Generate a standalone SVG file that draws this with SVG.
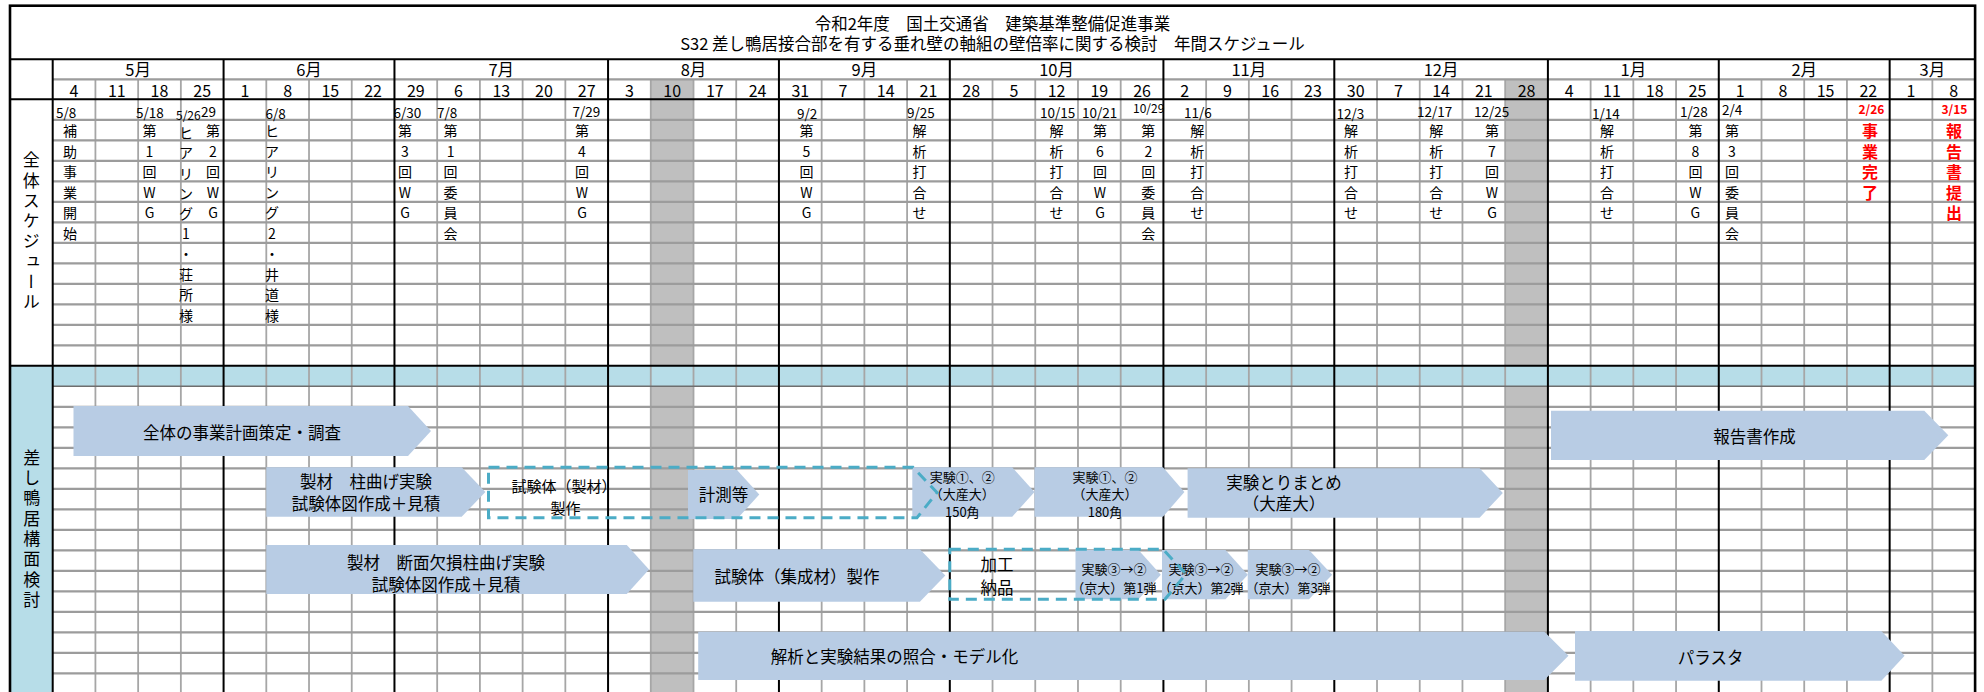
<svg xmlns="http://www.w3.org/2000/svg" width="1984" height="692" viewBox="0 0 1984 692">
<style>
.t{font-family:"Noto Sans CJK JP","Noto Sans",sans-serif;fill:#000;dominant-baseline:central}
.title{font-size:16.5px;text-anchor:middle}
.mon{font-size:16.5px;text-anchor:middle}
.wk{font-size:16px;text-anchor:middle}
.dt{font-size:13.5px;dominant-baseline:auto}
.sm{font-size:12px}
.vc{font-size:14px;text-anchor:middle}
.red{fill:#ff0000;font-weight:bold}
.rv{font-size:16px}
.lab{font-size:17px;text-anchor:middle;writing-mode:vertical-rl;letter-spacing:3.3px}
.bar{fill:#b8cce4}
.bt{font-size:16.5px;text-anchor:middle}
.bs{font-size:15px;text-anchor:middle}
.st{font-size:13px;text-anchor:middle}
.dash{fill:none;stroke:#4bacc6;stroke-width:3;stroke-dasharray:11 7}
.gv{stroke:#a6a6a6;stroke-width:1.8;fill:none}
.gh{stroke:#9c9c9c;stroke-width:2.2;fill:none}
.bk{stroke:#000;stroke-width:2;fill:none}
</style>
<rect x="0" y="0" width="1984" height="692" fill="#fff"/>
<g id="backgrounds">
<rect x="650.78" y="79.3" width="42.72" height="620" fill="#bfbfbf"/>
<rect x="1505.18" y="79.3" width="42.72" height="620" fill="#bfbfbf"/>
<rect x="52.7" y="365.8" width="1922.4" height="20.5" fill="#b7dde8"/>
<rect x="10" y="365.8" width="42.7" height="330" fill="#b7dde8"/>
</g>
<g id="grid">
<path class="gv" d="M95.42 79.3V700M138.14 79.3V700M180.86 79.3V700M266.3 79.3V700M309.02 79.3V700M351.74 79.3V700M437.18 79.3V700M479.9 79.3V700M522.62 79.3V700M565.34 79.3V700M650.78 79.3V700M693.5 79.3V700M736.22 79.3V700M821.66 79.3V700M864.38 79.3V700M907.1 79.3V700M992.54 79.3V700M1035.26 79.3V700M1077.98 79.3V700M1120.7 79.3V700M1206.14 79.3V700M1248.86 79.3V700M1291.58 79.3V700M1377.02 79.3V700M1419.74 79.3V700M1462.46 79.3V700M1505.18 79.3V700M1590.62 79.3V700M1633.34 79.3V700M1676.06 79.3V700M1761.5 79.3V700M1804.22 79.3V700M1846.94 79.3V700M1932.38 79.3V700"/>
<path class="gh" d="M52.7 79.3H1975.1M52.7 119.8H1975.1M52.7 140.3H1975.1M52.7 160.8H1975.1M52.7 181.3H1975.1M52.7 201.8H1975.1M52.7 222.3H1975.1M52.7 242.8H1975.1M52.7 263.3H1975.1M52.7 283.8H1975.1M52.7 304.3H1975.1M52.7 324.8H1975.1M52.7 345.3H1975.1M52.7 406.8H1975.1M52.7 427.3H1975.1M52.7 447.8H1975.1M52.7 468.3H1975.1M52.7 488.8H1975.1M52.7 509.3H1975.1M52.7 529.8H1975.1M52.7 550.3H1975.1M52.7 570.8H1975.1M52.7 591.3H1975.1M52.7 611.8H1975.1M52.7 632.3H1975.1M52.7 652.8H1975.1M52.7 673.3H1975.1"/>
<path d="M52.7 386.3H1975.1" stroke="#6e6e6e" stroke-width="1.6"/>
<path class="bk" d="M52.7 59.3V700M223.58 59.3V700M394.46 59.3V700M608.06 59.3V700M778.94 59.3V700M949.82 59.3V700M1163.42 59.3V700M1334.3 59.3V700M1547.9 59.3V700M1718.78 59.3V700M1889.66 59.3V700M10 59.3H1975.1M10 99.3H1975.1M10 365.8H1975.1"/>
<rect x="10" y="5.7" width="1965.1" height="700" fill="none" stroke="#000" stroke-width="2.6"/>
</g>
<g id="title">
<text class="t title" x="992.5" y="22.5">令和2年度　国土交通省　建築基準整備促進事業</text>
<text class="t title" x="992.5" y="42.5">S32 差し鴨居接合部を有する垂れ壁の軸組の壁倍率に関する検討　年間スケジュール</text>
</g>
<g id="months">
<text class="t mon" x="138.14" y="69">5月</text>
<text class="t mon" x="309.02" y="69">6月</text>
<text class="t mon" x="501.26" y="69">7月</text>
<text class="t mon" x="693.5" y="69">8月</text>
<text class="t mon" x="864.38" y="69">9月</text>
<text class="t mon" x="1056.62" y="69">10月</text>
<text class="t mon" x="1248.86" y="69">11月</text>
<text class="t mon" x="1441.1" y="69">12月</text>
<text class="t mon" x="1633.34" y="69">1月</text>
<text class="t mon" x="1804.22" y="69">2月</text>
<text class="t mon" x="1932.38" y="69">3月</text>
</g>
<g id="weeks">
<text class="t wk" x="74.06" y="89.5">4</text>
<text class="t wk" x="116.78" y="89.5">11</text>
<text class="t wk" x="159.5" y="89.5">18</text>
<text class="t wk" x="202.22" y="89.5">25</text>
<text class="t wk" x="244.94" y="89.5">1</text>
<text class="t wk" x="287.66" y="89.5">8</text>
<text class="t wk" x="330.38" y="89.5">15</text>
<text class="t wk" x="373.1" y="89.5">22</text>
<text class="t wk" x="415.82" y="89.5">29</text>
<text class="t wk" x="458.54" y="89.5">6</text>
<text class="t wk" x="501.26" y="89.5">13</text>
<text class="t wk" x="543.98" y="89.5">20</text>
<text class="t wk" x="586.7" y="89.5">27</text>
<text class="t wk" x="629.42" y="89.5">3</text>
<text class="t wk" x="672.14" y="89.5">10</text>
<text class="t wk" x="714.86" y="89.5">17</text>
<text class="t wk" x="757.58" y="89.5">24</text>
<text class="t wk" x="800.3" y="89.5">31</text>
<text class="t wk" x="843.02" y="89.5">7</text>
<text class="t wk" x="885.74" y="89.5">14</text>
<text class="t wk" x="928.46" y="89.5">21</text>
<text class="t wk" x="971.18" y="89.5">28</text>
<text class="t wk" x="1013.9" y="89.5">5</text>
<text class="t wk" x="1056.62" y="89.5">12</text>
<text class="t wk" x="1099.34" y="89.5">19</text>
<text class="t wk" x="1142.06" y="89.5">26</text>
<text class="t wk" x="1184.78" y="89.5">2</text>
<text class="t wk" x="1227.5" y="89.5">9</text>
<text class="t wk" x="1270.22" y="89.5">16</text>
<text class="t wk" x="1312.94" y="89.5">23</text>
<text class="t wk" x="1355.66" y="89.5">30</text>
<text class="t wk" x="1398.38" y="89.5">7</text>
<text class="t wk" x="1441.1" y="89.5">14</text>
<text class="t wk" x="1483.82" y="89.5">21</text>
<text class="t wk" x="1526.54" y="89.5">28</text>
<text class="t wk" x="1569.26" y="89.5">4</text>
<text class="t wk" x="1611.98" y="89.5">11</text>
<text class="t wk" x="1654.7" y="89.5">18</text>
<text class="t wk" x="1697.42" y="89.5">25</text>
<text class="t wk" x="1740.14" y="89.5">1</text>
<text class="t wk" x="1782.86" y="89.5">8</text>
<text class="t wk" x="1825.58" y="89.5">15</text>
<text class="t wk" x="1868.3" y="89.5">22</text>
<text class="t wk" x="1911.02" y="89.5">1</text>
<text class="t wk" x="1953.74" y="89.5">8</text>
</g>
<g id="section-labels">
<text class="t lab" x="31.3" y="232.5">全体スケジュール</text>
<text class="t lab" x="31.7" y="530">差し鴨居構面検討</text>
</g>
<g id="ev-0508"><text class="t dt" x="56" y="117.5">5/8</text><text class="t vc"><tspan x="70" y="130.05">補</tspan><tspan x="70" y="150.55">助</tspan><tspan x="70" y="171.05">事</tspan><tspan x="70" y="191.55">業</tspan><tspan x="70" y="212.05">開</tspan><tspan x="70" y="232.55">始</tspan></text></g>
<g id="ev-0518"><text class="t dt" x="136" y="117.5">5/18</text><text class="t vc"><tspan x="149.5" y="130.05">第</tspan><tspan x="149.5" y="150.55">1</tspan><tspan x="149.5" y="171.05">回</tspan><tspan x="149.5" y="191.55">W</tspan><tspan x="149.5" y="212.05">G</tspan></text></g>
<g id="ev-0526"><text class="t dt sm" x="176" y="119.5">5/26</text><text class="t vc"><tspan x="186" y="132">ヒ</tspan><tspan x="186" y="152">ア</tspan><tspan x="186" y="172.5">リ</tspan><tspan x="186" y="192.5">ン</tspan><tspan x="186" y="213">グ</tspan><tspan x="186" y="232.55">1</tspan><tspan x="186" y="253.05">・</tspan><tspan x="186" y="273.55">荘</tspan><tspan x="186" y="294.05">所</tspan><tspan x="186" y="314.55">様</tspan></text></g>
<g id="ev-0529"><text class="t dt" x="201" y="116.5">29</text><text class="t vc"><tspan x="213" y="130.05">第</tspan><tspan x="213" y="150.55">2</tspan><tspan x="213" y="171.05">回</tspan><tspan x="213" y="191.55">W</tspan><tspan x="213" y="212.05">G</tspan></text></g>
<g id="ev-0608"><text class="t dt" x="265.5" y="118.5">6/8</text><text class="t vc"><tspan x="272" y="130.05">ヒ</tspan><tspan x="272" y="150.55">ア</tspan><tspan x="272" y="171.05">リ</tspan><tspan x="272" y="191.55">ン</tspan><tspan x="272" y="212.05">グ</tspan><tspan x="272" y="232.55">2</tspan><tspan x="272" y="253.05">・</tspan><tspan x="272" y="273.55">井</tspan><tspan x="272" y="294.05">道</tspan><tspan x="272" y="314.55">様</tspan></text></g>
<g id="ev-0630"><text class="t dt" x="393.5" y="117.5">6/30</text><text class="t vc"><tspan x="405" y="130.05">第</tspan><tspan x="405" y="150.55">3</tspan><tspan x="405" y="171.05">回</tspan><tspan x="405" y="191.55">W</tspan><tspan x="405" y="212.05">G</tspan></text></g>
<g id="ev-0708"><text class="t dt" x="437" y="117.5">7/8</text><text class="t vc"><tspan x="450.6" y="130.05">第</tspan><tspan x="450.6" y="150.55">1</tspan><tspan x="450.6" y="171.05">回</tspan><tspan x="450.6" y="191.55">委</tspan><tspan x="450.6" y="212.05">員</tspan><tspan x="450.6" y="232.55">会</tspan></text></g>
<g id="ev-0729"><text class="t dt" x="572.5" y="117">7/29</text><text class="t vc"><tspan x="582" y="130.05">第</tspan><tspan x="582" y="150.55">4</tspan><tspan x="582" y="171.05">回</tspan><tspan x="582" y="191.55">W</tspan><tspan x="582" y="212.05">G</tspan></text></g>
<g id="ev-0902"><text class="t dt" x="797" y="118.5">9/2</text><text class="t vc"><tspan x="806.5" y="130.05">第</tspan><tspan x="806.5" y="150.55">5</tspan><tspan x="806.5" y="171.05">回</tspan><tspan x="806.5" y="191.55">W</tspan><tspan x="806.5" y="212.05">G</tspan></text></g>
<g id="ev-0925"><text class="t dt" x="907" y="117.5">9/25</text><text class="t vc"><tspan x="919.4" y="130.05">解</tspan><tspan x="919.4" y="150.55">析</tspan><tspan x="919.4" y="171.05">打</tspan><tspan x="919.4" y="191.55">合</tspan><tspan x="919.4" y="212.05">せ</tspan></text></g>
<g id="ev-1015"><text class="t dt" x="1040" y="118">10/15</text><text class="t vc"><tspan x="1056.4" y="130.05">解</tspan><tspan x="1056.4" y="150.55">析</tspan><tspan x="1056.4" y="171.05">打</tspan><tspan x="1056.4" y="191.55">合</tspan><tspan x="1056.4" y="212.05">せ</tspan></text></g>
<g id="ev-1021"><text class="t dt" x="1082" y="118">10/21</text><text class="t vc"><tspan x="1100" y="130.05">第</tspan><tspan x="1100" y="150.55">6</tspan><tspan x="1100" y="171.05">回</tspan><tspan x="1100" y="191.55">W</tspan><tspan x="1100" y="212.05">G</tspan></text></g>
<g id="ev-1029"><text class="t dt sm" x="1133" y="113">10/29</text><text class="t vc"><tspan x="1148.3" y="130.05">第</tspan><tspan x="1148.3" y="150.55">2</tspan><tspan x="1148.3" y="171.05">回</tspan><tspan x="1148.3" y="191.55">委</tspan><tspan x="1148.3" y="212.05">員</tspan><tspan x="1148.3" y="232.55">会</tspan></text></g>
<g id="ev-1106"><text class="t dt" x="1184" y="118">11/6</text><text class="t vc"><tspan x="1197.3" y="130.05">解</tspan><tspan x="1197.3" y="150.55">析</tspan><tspan x="1197.3" y="171.05">打</tspan><tspan x="1197.3" y="191.55">合</tspan><tspan x="1197.3" y="212.05">せ</tspan></text></g>
<g id="ev-1203"><text class="t dt" x="1336.5" y="119">12/3</text><text class="t vc"><tspan x="1351" y="130.05">解</tspan><tspan x="1351" y="150.55">析</tspan><tspan x="1351" y="171.05">打</tspan><tspan x="1351" y="191.55">合</tspan><tspan x="1351" y="212.05">せ</tspan></text></g>
<g id="ev-1217"><text class="t dt" x="1417" y="116.5">12/17</text><text class="t vc"><tspan x="1436.3" y="130.05">解</tspan><tspan x="1436.3" y="150.55">析</tspan><tspan x="1436.3" y="171.05">打</tspan><tspan x="1436.3" y="191.55">合</tspan><tspan x="1436.3" y="212.05">せ</tspan></text></g>
<g id="ev-1225"><text class="t dt" x="1474" y="117">12/25</text><text class="t vc"><tspan x="1492" y="130.05">第</tspan><tspan x="1492" y="150.55">7</tspan><tspan x="1492" y="171.05">回</tspan><tspan x="1492" y="191.55">W</tspan><tspan x="1492" y="212.05">G</tspan></text></g>
<g id="ev-0114"><text class="t dt" x="1592" y="119">1/14</text><text class="t vc"><tspan x="1607" y="130.05">解</tspan><tspan x="1607" y="150.55">析</tspan><tspan x="1607" y="171.05">打</tspan><tspan x="1607" y="191.55">合</tspan><tspan x="1607" y="212.05">せ</tspan></text></g>
<g id="ev-0128"><text class="t dt" x="1680" y="116.5">1/28</text><text class="t vc"><tspan x="1695.4" y="130.05">第</tspan><tspan x="1695.4" y="150.55">8</tspan><tspan x="1695.4" y="171.05">回</tspan><tspan x="1695.4" y="191.55">W</tspan><tspan x="1695.4" y="212.05">G</tspan></text></g>
<g id="ev-0204"><text class="t dt" x="1722" y="115">2/4</text><text class="t vc"><tspan x="1732" y="130.05">第</tspan><tspan x="1732" y="150.55">3</tspan><tspan x="1732" y="171.05">回</tspan><tspan x="1732" y="191.55">委</tspan><tspan x="1732" y="212.05">員</tspan><tspan x="1732" y="232.55">会</tspan></text></g>
<g id="ev-0226"><text class="t dt sm red" x="1858.5" y="113.5">2/26</text><text class="t vc rv red"><tspan x="1870" y="130.05">事</tspan><tspan x="1870" y="150.55">業</tspan><tspan x="1870" y="171.05">完</tspan><tspan x="1870" y="191.55">了</tspan></text></g>
<g id="ev-0315"><text class="t dt sm red" x="1941.5" y="113.5">3/15</text><text class="t vc rv red"><tspan x="1954" y="130.05">報</tspan><tspan x="1954" y="150.55">告</tspan><tspan x="1954" y="171.05">書</tspan><tspan x="1954" y="191.55">提</tspan><tspan x="1954" y="212.05">出</tspan></text></g>
<g id="bar-plan"><polygon class="bar" points="73.5,406 408,406 431,431 408,456 73.5,456"/><text class="t bt" x="242" y="431.5">全体の事業計画策定・調査</text></g>
<g id="bar-report"><polygon class="bar" points="1551,410.7 1924.3,410.7 1948.3,435.3 1924.3,460 1551,460"/><text class="t bt" x="1754.5" y="436">報告書作成</text></g>
<g id="bar-seizai1"><polygon class="bar" points="266.3,467.3 461.7,467.3 485.4,492 461.7,516.7 266.3,516.7"/><text class="t bt"><tspan x="366" y="480.5">製材　柱曲げ実験</tspan><tspan x="366" y="502.5">試験体図作成＋見積</tspan></text></g>
<g id="bar-keisoku"><polygon class="bar" points="688,470 737,470 759.3,494.5 737,519 688,519"/><text class="t bt" x="723.5" y="493.5">計測等</text></g>
<g id="bar-exp150"><polygon class="bar" points="912.3,467.3 1012.2,467.3 1034.5,492 1012.2,516.7 912.3,516.7"/><text class="t st"><tspan x="962.3" y="476">実験①、②</tspan><tspan x="962.3" y="493.3">（大産大）</tspan><tspan x="962.3" y="510.7">150角</tspan></text></g>
<g id="bar-exp180"><polygon class="bar" points="1034.5,467.3 1163,467.3 1184.4,492 1163,516.7 1034.5,516.7"/><text class="t st"><tspan x="1105" y="476">実験①、②</tspan><tspan x="1105" y="493.3">（大産大）</tspan><tspan x="1105" y="510.7">180角</tspan></text></g>
<g id="bar-matome"><polygon class="bar" points="1187.6,468.3 1479.6,468.3 1502.8,493 1479.6,517.7 1187.6,517.7"/><text class="t bt"><tspan x="1284" y="481.7">実験とりまとめ</tspan><tspan x="1284" y="503.3">（大産大）</tspan></text></g>
<g id="bar-seizai2"><polygon class="bar" points="266.3,545 626.8,545 649,569.5 626.8,594 266.3,594"/><text class="t bt"><tspan x="446" y="561.7">製材　断面欠損柱曲げ実験</tspan><tspan x="446" y="584">試験体図作成＋見積</tspan></text></g>
<g id="bar-shuseizai"><polygon class="bar" points="693.3,549.3 919.9,549.3 945.3,575.5 919.9,601.7 693.3,601.7"/><text class="t bt" x="797" y="576">試験体（集成材）製作</text></g>
<g id="bar-kyodai1"><polygon class="bar" points="1075.5,550 1138.5,550 1160.8,574.7 1138.5,599.3 1075.5,599.3"/><text class="t st"><tspan x="1113.9" y="568.3">実験③→②</tspan><tspan x="1113.9" y="586.7">（京大）第1弾</tspan></text></g>
<g id="bar-kyodai2"><polygon class="bar" points="1162,550 1225.5,550 1247.8,574.7 1225.5,599.3 1162,599.3"/><text class="t st"><tspan x="1201" y="568.3">実験③→②</tspan><tspan x="1201" y="586.7">（京大）第2弾</tspan></text></g>
<g id="bar-kyodai3"><polygon class="bar" points="1247.8,550 1309,550 1332.1,574.7 1309,599.3 1247.8,599.3"/><text class="t st"><tspan x="1288" y="568.3">実験③→②</tspan><tspan x="1288" y="586.7">（京大）第3弾</tspan></text></g>
<g id="bar-kaiseki"><polygon class="bar" points="698.2,631.7 1544.4,631.7 1568.5,655.8 1544.4,680 698.2,680"/><text class="t bt" x="894.6" y="656">解析と実験結果の照合・モデル化</text></g>
<g id="bar-parasuta"><polygon class="bar" points="1575,631 1881.4,631 1904.6,655.8 1881.4,680.7 1575,680.7"/><text class="t bt" x="1710.7" y="656.5">パラスタ</text></g>
<g id="box-seisaku"><polygon class="dash" points="488.5,467.3 913,467.3 937,492.5 917,517.7 488.5,517.7"/><text class="t bs"><tspan x="564" y="484.5">試験体（製材）</tspan><tspan x="565.5" y="506.5">製作</tspan></text></g>
<g id="box-kako"><polygon class="dash" points="949.8,549.3 1163,549.3 1186,574 1165,599.3 949.8,599.3"/><text class="t bt"><tspan x="997" y="564">加工</tspan><tspan x="997" y="587.3">納品</tspan></text></g>
<g id="connectors"></g>
</svg>
